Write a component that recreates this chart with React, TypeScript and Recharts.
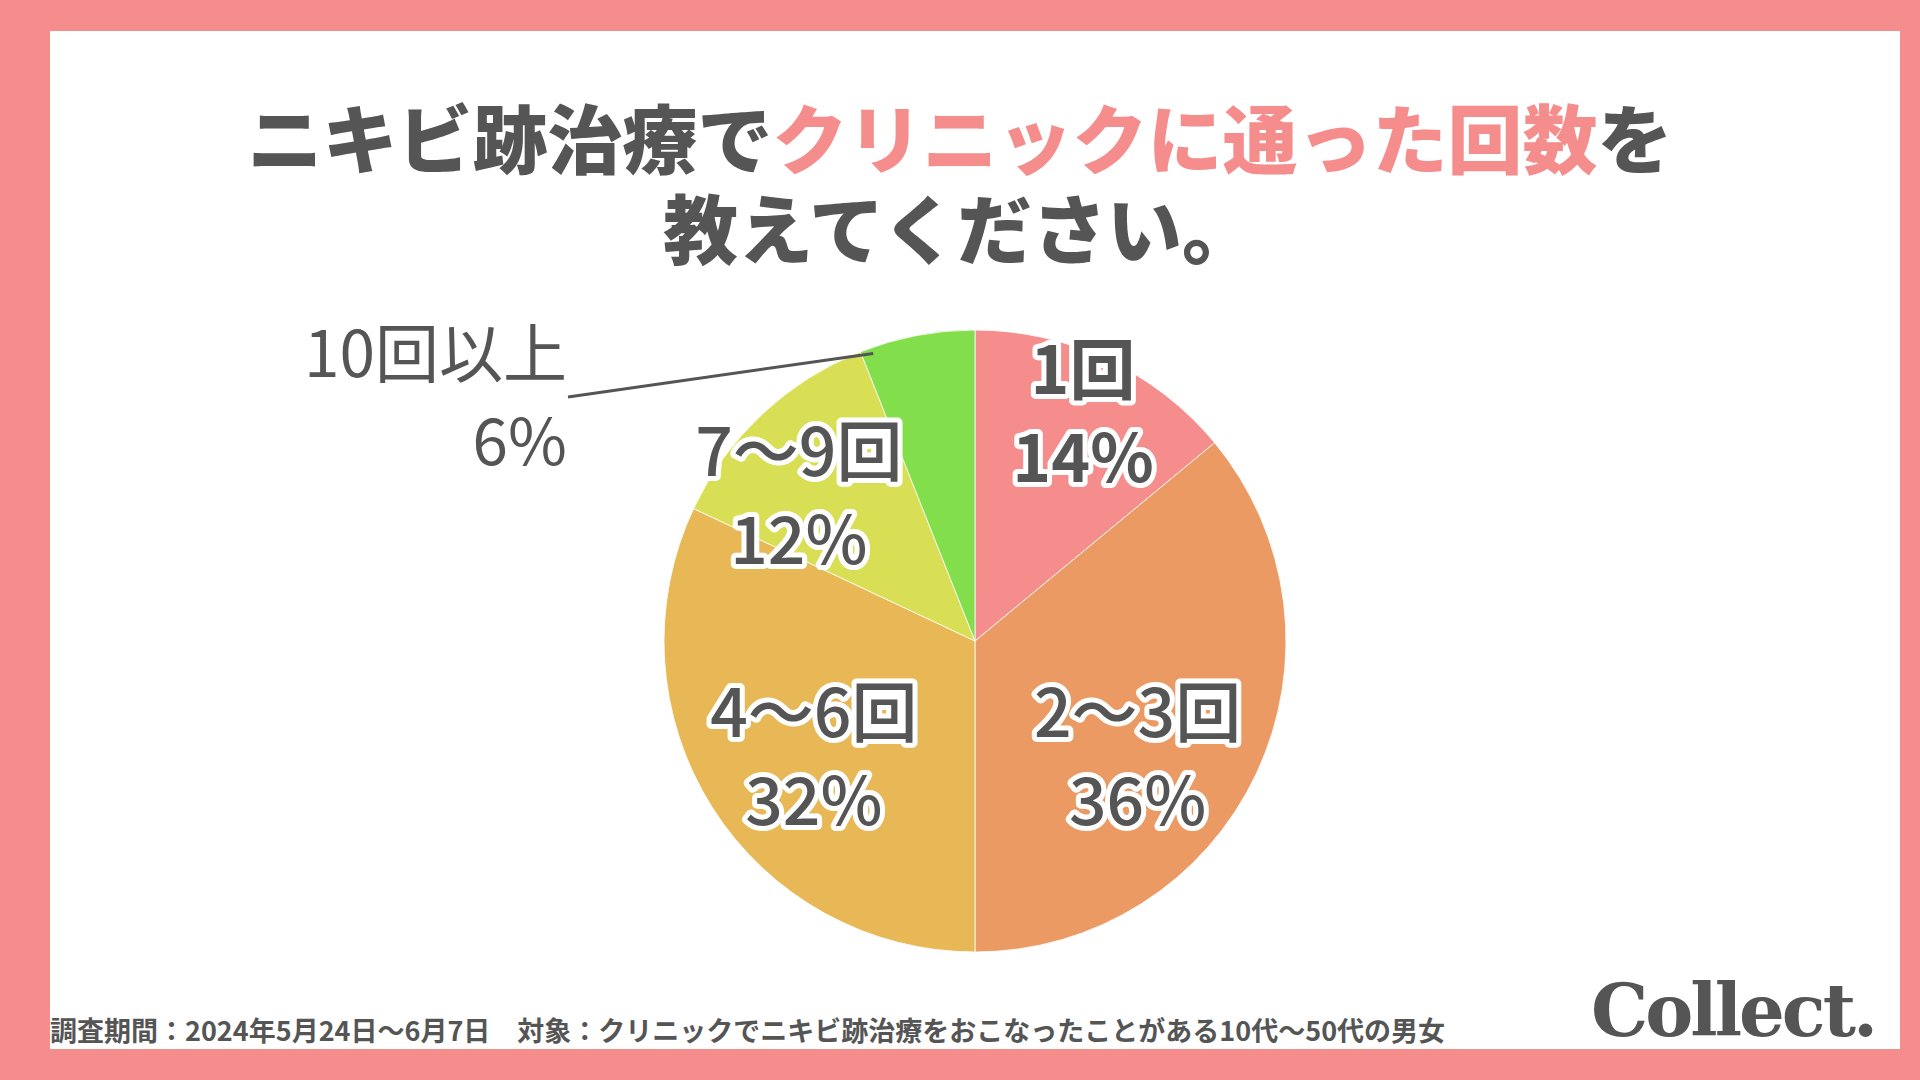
import { Cell, Pie, PieChart } from "recharts";

const categories = ["1回", "2〜3回", "4〜6回", "7〜9回", "10回以上"];
const shares = [14, 36, 32, 12, 6];
const sliceColors = ["#F58D8D", "#EB9A64", "#E8B856", "#D8DF55", "#82DE4B"];

const data = categories.map((name, i) => ({ name, value: shares[i] }));

const PIE_CX = 975;
const PIE_CY = 641;
const PIE_R = 311;
const INK = "#555555";
const PINK = "#F58D8D";
const JP_FONT = '"Noto Sans CJK JP", "Noto Sans", sans-serif';
const LABEL_SIZE = 66;

// where each inside label sits, relative to the slice mid angle
const labelPlacement = [
  { r: 249, shift: -0.5, weight: 700 },
  { r: 201, shift: -10.8, weight: 500 },
  { r: 200, shift: 3.9, weight: 500 },
  { r: 227, shift: 7.7, weight: 500 },
];

const RAD = Math.PI / 180;
const polar = (cx: number, cy: number, r: number, deg: number) => ({
  x: cx + r * Math.cos(-deg * RAD),
  y: cy + r * Math.sin(-deg * RAD),
});

function renderLabel(props: any) {
  const { midAngle, index, name, value } = props;
  const cx = props.cx ?? PIE_CX;
  const cy = props.cy ?? PIE_CY;
  const outer = props.outerRadius ?? PIE_R;
  const base = LABEL_SIZE * 0.33;

  if (index < labelPlacement.length) {
    const p = labelPlacement[index];
    const c = polar(cx, cy, p.r, midAngle + p.shift);
    const common = {
      x: c.x,
      textAnchor: "middle" as const,
      fontSize: LABEL_SIZE,
      fontFamily: JP_FONT,
      fontWeight: p.weight,
      fill: INK,
      stroke: "#ffffff",
      strokeWidth: 10,
      strokeLinejoin: "round" as const,
      paintOrder: "stroke",
    };
    return (
      <g key={`lbl-${index}`}>
        <text {...common} y={c.y - 44 + base}>{name}</text>
        <text {...common} y={c.y + 44 + base}>{`${value}%`}</text>
      </g>
    );
  }

  // small slice: label outside with a leader line
  const tip = polar(cx, cy, outer - 6, midAngle + 8.7);
  const elbow = { x: cx - 407, y: cy - 244 };
  const common = {
    x: elbow.x - 1,
    textAnchor: "end" as const,
    fontSize: 64,
    fontFamily: JP_FONT,
    fontWeight: 400,
    fill: INK,
  };
  return (
    <g key={`lbl-${index}`}>
      <line x1={tip.x} y1={tip.y} x2={elbow.x} y2={elbow.y} stroke={INK} strokeWidth={3} />
      <text {...common} y={elbow.y - 42 + base}>{name}</text>
      <text {...common} y={elbow.y + 46 + base}>{`${value}%`}</text>
    </g>
  );
}

export default function App() {
  return (
    <div
      style={{
        position: "absolute",
        left: 0,
        top: 0,
        width: 1920,
        height: 1080,
        background: PINK,
        overflow: "hidden",
      }}
    >
      <div
        style={{ position: "absolute", left: 50, top: 31, width: 1850, height: 1018, background: "#ffffff" }}
      />

      <svg width={1920} height={300} style={{ position: "absolute", left: 0, top: 0 }}>
        <text textAnchor="middle" fontFamily={JP_FONT} fontSize={75} fontWeight={900} fill={INK}>
          <tspan x={960} y={168}>ニキビ跡治療で</tspan>
          <tspan fill={PINK}>クリニックに通った回数</tspan>
          <tspan>を</tspan>
          <tspan x={960} y={258}>教えてください。</tspan>
        </text>
      </svg>

      <div style={{ position: "absolute", left: 0, top: 0 }}>
        <PieChart width={1920} height={1080} margin={{ top: 0, right: 0, bottom: 0, left: 0 }}>
          <Pie
            data={data}
            dataKey="value"
            nameKey="name"
            cx={PIE_CX}
            cy={PIE_CY}
            outerRadius={PIE_R}
            startAngle={90}
            endAngle={-270}
            stroke="#ffffff"
            strokeWidth={0.8}
            label={renderLabel}
            labelLine={false}
            isAnimationActive={false}
          >
            {data.map((d, i) => (
              <Cell key={d.name} fill={sliceColors[i]} />
            ))}
          </Pie>
        </PieChart>
      </div>

      <div
        style={{
          position: "absolute",
          left: 50,
          top: 1015,
          fontFamily: JP_FONT,
          fontSize: 27,
          fontWeight: 700,
          lineHeight: "30px",
          color: INK,
          whiteSpace: "nowrap",
        }}
      >
        調査期間：2024年5月24日〜6月7日　対象：クリニックでニキビ跡治療をおこなったことがある10代〜50代の男女
      </div>

      <div
        style={{
          position: "absolute",
          left: 1591,
          top: 966,
          fontFamily: '"DejaVu Serif", serif',
          fontSize: 72,
          fontWeight: 700,
          lineHeight: "90px",
          letterSpacing: -3,
          color: INK,
          whiteSpace: "nowrap",
        }}
      >
        Collect.
      </div>
    </div>
  );
}
